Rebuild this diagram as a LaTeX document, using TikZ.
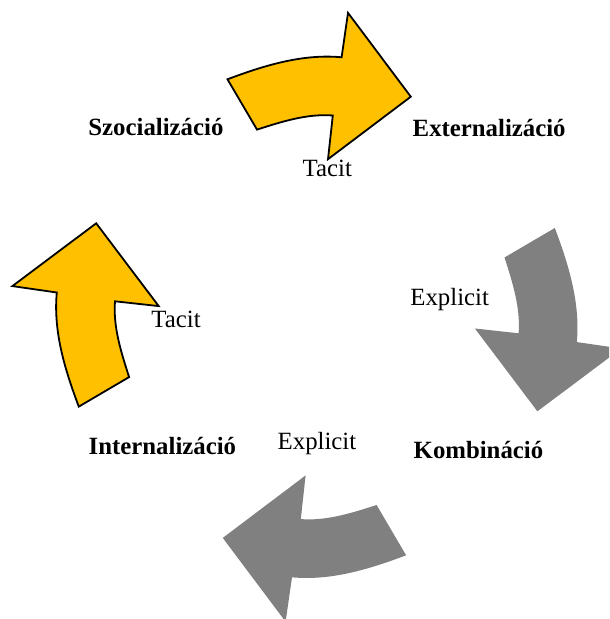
\documentclass[tikz,border=0pt]{standalone}
\usepackage{fontspec}
\setmainfont{Liberation Serif}
\definecolor{arrowyellow}{HTML}{FFC000}
\definecolor{arrowgray}{HTML}{808080}
\tikzset{
  cyclearrow/.pic={
    \path[pic actions] (-89.3,-238) .. controls (-52.7,-251.8) and (-14.1,-263.7) .. (24.8,-260)
      -- (31.2,-304.4) -- (94,-220.6) -- (11.2,-158.1) -- (16,-201.8)
      .. controls (-9.8,-203.8) and (-35.1,-195.6) .. (-59.8,-187.7) -- cycle;
  },
  yellowarrow/.style={fill=arrowyellow, draw=black, line width=0.9pt, line join=miter},
  grayarrow/.style={fill=arrowgray},
  phase/.style={anchor=base west, inner sep=0pt, font=\fontsize{12.4pt}{15pt}\selectfont\bfseries},
  kind/.style={anchor=base west, inner sep=0pt, font=\fontsize{12.4pt}{15pt}\selectfont},
}
\begin{document}
\begin{tikzpicture}[x=0.5pt, y=-0.5pt]
  \useasboundingbox (0,0) rectangle (609,619);
  \clip (0,0) rectangle (609,619);
  \coordinate (O) at (316.8,317.3);
  \pic[yellowarrow] at (O) {cyclearrow};
  \pic[grayarrow, rotate=-90] at (O) {cyclearrow};
  \pic[grayarrow, rotate=180] at (O) {cyclearrow};
  \pic[yellowarrow, rotate=90] at (O) {cyclearrow};

  \node[phase] (szoc) at (88,136) {Szocializáció};
  \node[phase] (ext) at (412.3,136.7) {Externalizáció};
  \node[phase] (int) at (88.3,454.5) {Internalizáció};
  \node[phase] (komb) at (413.3,458.5) {Kombináció};
  \node[kind] (tacit1) at (302.3,176.7) {Tacit};
  \node[kind] (expl1) at (410,306) {Explicit};
  \node[kind] (tacit2) at (151,327.3) {Tacit};
  \node[kind] (expl2) at (277.3,449.3) {Explicit};
\end{tikzpicture}
\end{document}
